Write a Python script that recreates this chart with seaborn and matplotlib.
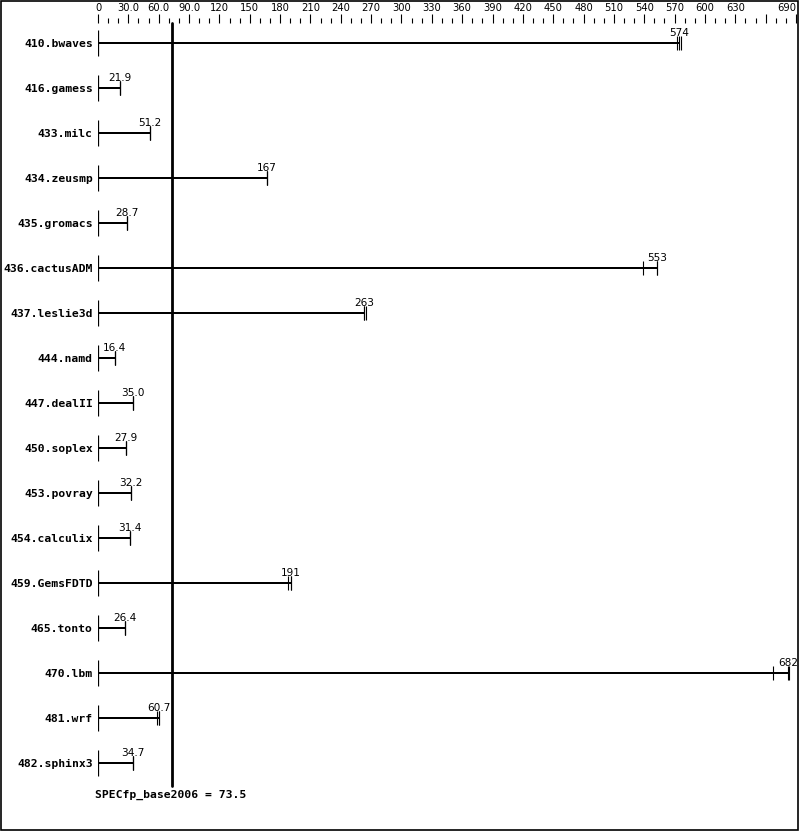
import numpy as np
import pandas as pd
import matplotlib
matplotlib.use('Agg')
import matplotlib.pyplot as plt
import seaborn as sns

# benchmark results (SPECfp_base2006)
benchmarks = ['410.bwaves', '416.gamess', '433.milc', '434.zeusmp', '435.gromacs',
              '436.cactusADM', '437.leslie3d', '444.namd', '447.dealII', '450.soplex',
              '453.povray', '454.calculix', '459.GemsFDTD', '465.tonto', '470.lbm',
              '481.wrf', '482.sphinx3']
ratios = [574, 21.9, 51.2, 167, 28.7, 553, 263, 16.4, 35.0, 27.9,
          32.2, 31.4, 191, 26.4, 682, 60.7, 34.7]
run_a = [572, 21.9, 51.2, 167, 28.7, 539, 263, 16.4, 35.0, 27.9,
         32.2, 31.4, 188, 26.4, 667, 58.3, 34.7]
run_b = [574, 21.9, 51.2, 167, 28.7, 553, 263, 16.4, 35.0, 27.9,
         32.2, 31.4, 191, 26.4, 682, 60.7, 34.7]
run_c = [576, 21.9, 51.2, 167, 28.7, 553, 265, 16.4, 35.0, 27.9,
         32.2, 31.4, 191, 26.4, 683, 60.7, 34.7]
base_score = 73.5
tick_values = list(range(0, 691, 30))
tick_labels = ['0', '30.0', '60.0', '90.0'] + [str(v) for v in range(120, 631, 30)] + ['', '690']

df = pd.DataFrame({'benchmark': benchmarks, 'ratio': ratios})

sns.set_style('white')
plt.rcParams['font.family'] = ['DejaVu Sans']
plt.rcParams['text.color'] = 'black'
plt.rcParams['xtick.color'] = 'black'
plt.rcParams['ytick.color'] = 'black'

fig = plt.figure(figsize=(7.99, 8.31), dpi=100)
ax = fig.add_axes([98 / 799, 45 / 831, 698 / 799, 763 / 831])

row_px = 45.0
sns.barplot(data=df, x='ratio', y='benchmark', orient='h', color='black',
            saturation=1, width=2.6 / row_px, linewidth=0, ax=ax)

n = len(benchmarks)
ys = np.arange(n)
# start tick at zero
ax.vlines(np.zeros(n), ys - 13 / row_px, ys + 13 / row_px, color='black', lw=0.9)
# individual run ticks
for runs in (run_a, run_b, run_c):
    ax.vlines(runs, ys - 7 / row_px, ys + 7 / row_px, color='black', lw=0.8)

# value labels
for i, r in enumerate(ratios):
    txt = f'{r:.0f}' if r >= 100 else f'{r:.1f}'
    ax.text(min(r, 684), i - 6.5 / row_px, txt, ha='center', va='baseline',
            fontsize=7.6, color='black')

# reference line for overall score
ax.axvline(base_score, color='black', lw=2.0, clip_on=False)

ax.set_xlim(0, 690)
ax.set_ylim(n - 1 + 23 / row_px, -20 / row_px)

ax.xaxis.tick_top()
ax.set_xticks(tick_values)
ax.set_xticklabels(tick_labels)
ax.set_xticks(np.arange(0, 691, 10), minor=True)
ax.tick_params(axis='x', which='major', length=6.5, width=0.8, direction='out',
               pad=0.8, labelsize=7.2, colors='black')
ax.tick_params(axis='x', which='minor', length=3.4, width=0.8, direction='out',
               colors='black')
ax.get_xticklabels()[-1].set_ha('right')

ax.tick_params(axis='y', length=0, pad=3.8, colors='black')
for lab in ax.get_yticklabels():
    lab.set_fontfamily('DejaVu Sans Mono')
    lab.set_fontweight('bold')
    lab.set_fontsize(8.2)

ax.set_xlabel('')
ax.set_ylabel('')
for s in ax.spines.values():
    s.set_visible(False)

fig.text(95 / 799, (831 - 795) / 831, f'SPECfp_base2006 = {base_score}',
         family='DejaVu Sans Mono', weight='bold', fontsize=8.2, va='center',
         ha='left', color='black')

fig.add_artist(plt.Rectangle((0.6 / 799, 1.2 / 831), 797 / 799, 829 / 831,
                             transform=fig.transFigure, fill=False, ec='black', lw=1.2))

fig.savefig('out.png', dpi=100, facecolor='white')
